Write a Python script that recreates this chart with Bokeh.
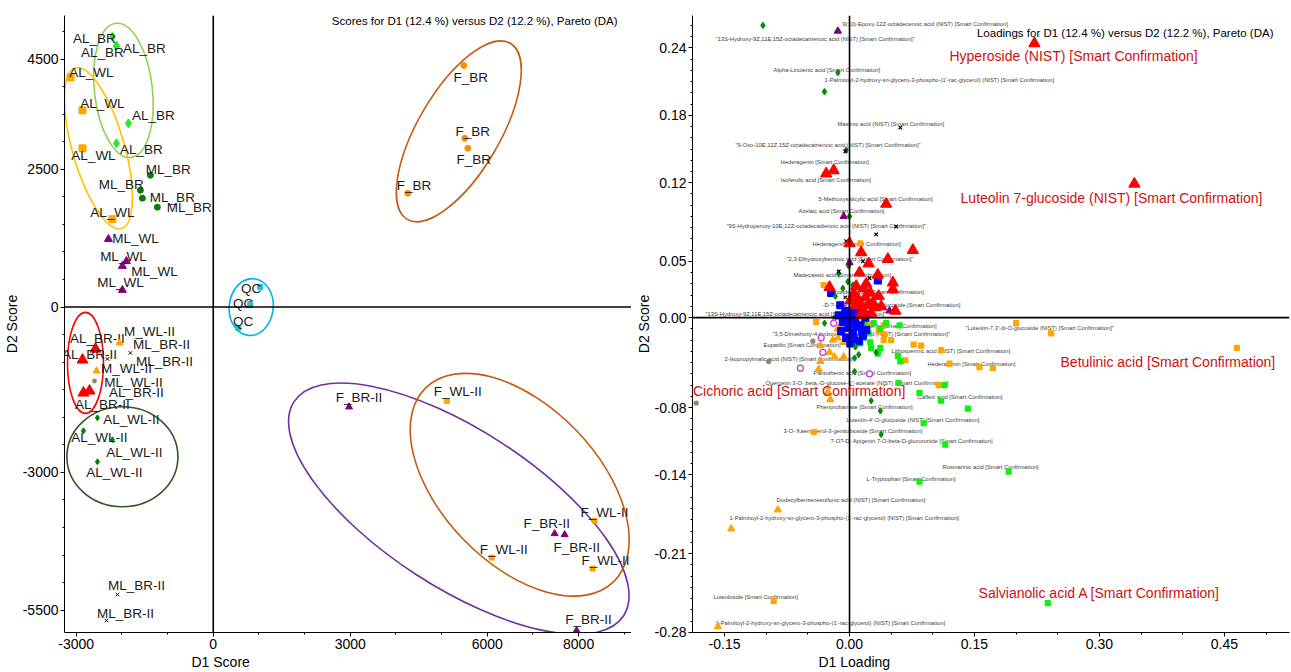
import numpy as np
from bokeh.plotting import figure
from bokeh.layouts import row
from bokeh.models import (ColumnDataSource, FixedTicker, PrintfTickFormatter, Span, Range1d,
                          Label, Title)
from bokeh.core.properties import value
from bokeh.embed import file_html
from bokeh.resources import INLINE

FONT = "Liberation Sans"

# ---------------- Scores (D1, D2) per sample group ----------------
AL_BR_D1 = [-2208, -2120, -2120, -1858, -2120]
AL_BR_D2 = [4909, 4728, 4746, 3333, 2971]
AL_WL_D1 = [-3126, -2863, -2863, -2208]
AL_WL_D2 = [4167, 3569, 2880, 1594]
ML_BR_D1 = [-1377, -1596, -1552, -1224]
ML_BR_D2 = [2391, 2120, 1975, 1812]
ML_WL_D1 = [-2295, -1902, -1989, -1989]
ML_WL_D2 = [1232, 833, 743, 308]
QC_D1 = [1027, 809, 546]
QC_D2 = [362, 54, -380]
F_BR_D1 = [5486, 5508, 5574, 4262]
F_BR_D2 = [4384, 3062, 2880, 2065]
F_BR2_D1 = [2973, 7475, 7694, 7956]
F_BR2_D2 = [-1812, -4112, -4130, -5870]
F_WL2_D1 = [5115, 8350, 6098, 8306]
F_WL2_D2 = [-1703, -3877, -4547, -4746]
AL_BR2_D1 = [-2579, -2863, -2710, -2842]
AL_BR2_D2 = [-761, -960, -1522, -1558]
M_WL2_D1 = [-2055, -2557]
M_WL2_D2 = [-652, -1159]
ML_WL2_D1 = [-2601]
ML_WL2_D2 = [-1341]
ML_BR2_D1 = [-1814, -2317, -2098, -2339]
ML_BR2_D2 = [-833, -942, -5217, -5688]
AL_WL2_D1 = [-2536, -2842, -2208, -2536]
AL_WL2_D2 = [-2011, -2246, -2409, -2808]

# group ellipses: centre (D1, D2)
ELL_NAMES = ["AL_BR", "AL_WL", "AL_BR-II", "AL_WL-II", "QC", "F_BR", "F_BR-II", "F_WL-II"]
ELL_D1 = [-1967, -2514, -2798, -1989, 831, 5377, 5377, 6710]
ELL_D2 = [3931, 2880, -1014, -2717, 0, 3188, -3659, -3225]

# ---------------- Loadings (D1, D2) per marker class ----------------
RED_X = [0.222, 0.342, -0.028, -0.019, 0.044, 0.000, 0.014, 0.076, 0.046, 0.023, 0.012, 0.034,
         -0.024, 0.052, 0.052, 0.035, 0.055, 0.005, 0.010, 0.017, 0.019, 0.013, 0.022, 0.028,
         0.007, 0.025, 0.031, 0.001, 0.017, 0.020, 0.008, 0.026, 0.038, 0.014]
RED_Y = [0.244, 0.119, 0.128, 0.131, 0.101, 0.066, 0.058, 0.060, 0.052, 0.048, 0.040, 0.038,
         0.027, 0.031, 0.025, 0.019, 0.006, 0.021, 0.017, 0.026, 0.018, 0.012, 0.011, 0.013,
         0.011, 0.022, 0.009, 0.015, 0.006, 0.030, 0.028, 0.004, 0.010, 0.002]
BLUE_X = [-0.022, 0.034, -0.011, -0.005, 0.001, 0.007, 0.013, -0.001, -0.008, 0.004, 0.016,
          0.011, -0.004, 0.019, -0.013, 0.008, 0.020, 0.001, -0.010, 0.005, 0.010, -0.006,
          0.015, 0.003, -0.002, 0.009]
BLUE_Y = [0.022, 0.033, 0.011, 0.006, 0.002, -0.003, -0.007, -0.009, -0.004, -0.014, -0.016,
          -0.021, -0.018, 0.000, 0.002, 0.008, -0.011, -0.023, -0.012, -0.019, 0.003, 0.000,
          -0.012, 0.004, -0.004, -0.008]
LIME_X = [0.044, 0.060, 0.037, 0.023, 0.017, 0.025, 0.018, 0.029, 0.013, 0.026, 0.037, 0.034,
          0.058, 0.061, 0.059, 0.114, 0.084, 0.110, 0.142, 0.089, 0.115, 0.084, 0.191, 0.238]
LIME_Y = [-0.005, -0.007, -0.010, -0.014, -0.018, -0.022, -0.004, -0.005, -0.023, -0.027,
          -0.027, -0.032, -0.034, -0.039, -0.058, -0.060, -0.067, -0.074, -0.081, -0.094,
          -0.113, -0.146, -0.137, -0.254]
ORSQ_X = [0.465, 0.200, 0.242, 0.110, 0.120, 0.156, 0.172, 0.107, -0.031, -0.040, 0.023,
          0.041, 0.035, 0.042, 0.041, 0.050, 0.077, 0.086, 0.067, 0.013, -0.043, -0.091]
ORSQ_Y = [-0.027, -0.005, -0.014, -0.029, -0.041, -0.044, -0.045, -0.060, 0.029, -0.004,
          -0.006, -0.007, -0.012, -0.015, -0.020, -0.020, -0.024, -0.025, -0.038, 0.066,
          -0.102, -0.252]
ORTRI_X = [-0.014, -0.004, -0.020, -0.007, -0.014, -0.024, -0.035, -0.018, -0.007, -0.035,
           -0.037, -0.026, -0.023, -0.086, -0.142, -0.158, 0.004]
ORTRI_Y = [-0.010, -0.011, -0.020, -0.022, -0.018, -0.031, -0.025, -0.035, -0.035, -0.039,
           -0.046, -0.066, -0.073, -0.171, -0.188, -0.275, -0.016]
DKG_X = [-0.104, -0.014, -0.030, -0.004, 0.000, 0.014, -0.001, -0.013, -0.002, 0.004, -0.008,
         0.008, -0.017, 0.005, -0.030, 0.007, 0.011, 0.006, 0.032, 0.006, 0.026, 0.037, 0.038]
DKG_Y = [0.260, 0.218, 0.201, 0.149, 0.090, 0.060, 0.046, 0.039, 0.032, 0.029, 0.026, 0.021,
         0.019, 0.012, -0.005, -0.026, -0.033, -0.036, -0.031, -0.048, -0.074, -0.083, -0.104]
BLKX_X = [0.061, -0.005, 0.056, 0.032, -0.004, 0.016, -0.013, 0.024, 0.004, -0.005, 0.007,
          0.029, 0.016, -0.018]
BLKX_Y = [0.169, 0.148, 0.081, 0.074, 0.068, 0.050, 0.041, 0.035, 0.024, 0.018, 0.018,
          0.017, 0.012, 0.000]
PURP_X = [-0.014, -0.007, 0.000, 0.036, 0.048, 0.010]
PURP_Y = [0.255, 0.090, 0.049, 0.018, 0.006, 0.004]
MAG_X = [-0.019, -0.032, -0.059, 0.024, -0.034]
MAG_Y = [-0.005, -0.031, -0.045, -0.050, -0.018]
GRAY_X = [-0.184, -0.044, -0.097]
GRAY_Y = [-0.076, -0.021, -0.039]

# compound annotations (anchor in loading units)
CMP_TEXT = [
    "9(10)-Epoxy-12Z-octadecenoic acid (NIST) [Smart Confirmation]",
    "\"13S-Hydroxy-9Z,11E,15Z-octadecatrienoic acid (NIST) [Smart Confirmation]\"",
    "Alpha-Linolenic acid [Smart Confirmation]",
    "1-Palmitoyl-2-hydroxy-sn-glycero-3-phospho-(1'-rac-glycerol) (NIST) [Smart Confirmation]",
    "Maslinic acid (NIST) [Smart Confirmation]",
    "\"9-Oxo-10E,12Z,15Z-octadecatrienoic acid (NIST) [Smart Confirmation]\"",
    "Hederagenin [Smart Confirmation]",
    "Isoferulic acid [Smart Confirmation]",
    "5-Methoxysalicylic acid [Smart Confirmation]",
    "Azelaic acid [Smart Confirmation]",
    "\"9S-Hydroperoxy-10E,12Z-octadecadienoic acid (NIST) [Smart Confirmation]\"",
    "Hederagenin [Smart Confirmation]",
    "\"2,3-Dihydroxybenzoic acid [Smart Confirmation]\"",
    "Madecassic acid [Smart Confirmation]",
    "Tiliroside (NIST) [Smart Confirmation]",
    "-D-?-D-(+)-pinoresinol-glucoside [Smart Confirmation]",
    "\"13S-Hydroxy-9Z,11E,15Z-octadecatrienoic acid [Smart Confirmation]\"",
    "?-D-? Hederagenin [Smart Confirmation]",
    "\"3,5-Dimethoxy-4-hydroxycinnamic acid (NIST) [Smart Confirmation]\"",
    "Eupatilin [Smart Confirmation]",
    "2-Isopropylmalic acid (NIST) [Smart Confirmation]",
    "Pantothenic acid [Smart Confirmation]",
    "Quercetin 3-O-.beta.-D-glucose-6''-acetate (NIST) [Smart Confirmation]",
    "Caffeic acid [Smart Confirmation]",
    "\"Luteolin-7,3'-di-O-glucoside (NIST) [Smart Confirmation]\"",
    "Lithospermic acid (NIST) [Smart Confirmation]",
    "Hederagenin [Smart Confirmation]",
    "Phenprobamate [Smart Confirmation]",
    "Luteolin-4'-O-glucoside (NIST) [Smart Confirmation]",
    "3-O- Kaempferol-3-gentiobioside [Smart Confirmation]",
    "7-O?-D- Apigenin 7-O-beta-D-glucuronide [Smart Confirmation]",
    "Rosmarinic acid [Smart Confirmation]",
    "L-Tryptophan [Smart Confirmation]",
    "Dodecylbenzenesulfonic acid (NIST) [Smart Confirmation]",
    "1-Palmitoyl-2-hydroxy-sn-glycero-3-phospho-(1'-rac-glycerol) (NIST) [Smart Confirmation]",
    "Luteoloside [Smart Confirmation]",
    "1-Palmitoyl-2-hydroxy-sn-glycero-3-phospho-(1'-rac-glycerol) (NIST) [Smart Confirmation]",
]
CMP_X = [-0.0084, -0.1609, -0.0912, -0.0300, -0.0144, -0.1369, -0.0828, -0.0828, -0.0372,
         -0.0612, -0.1477, -0.0444, -0.0756, -0.0672, -0.0264, -0.0324, -0.1729, -0.0204,
         -0.0924, -0.1032, -0.1501, -0.0432, -0.1008, 0.0816, 0.1393, 0.0504, 0.0936,
         -0.0396, -0.0036, -0.0792, -0.0228, 0.1116, 0.0204, -0.0876, -0.1441, -0.1633, -0.1609]
CMP_Y = [0.2609, 0.2478, 0.2207, 0.2110, 0.1725, 0.1532, 0.1384, 0.1226, 0.1051, 0.0946,
         0.0814, 0.0657, 0.0525, 0.0377, 0.0228, 0.0114, 0.0035, -0.0079, -0.0149, -0.0245,
         -0.0368, -0.0490, -0.0578, -0.0709, -0.0096, -0.0298, -0.0412, -0.0797, -0.0911,
         -0.1007, -0.1095, -0.1331, -0.1436, -0.1620, -0.1786, -0.2487, -0.2715]

KEY_TEXT = ["Hyperoside (NIST) [Smart Confirmation]",
            "Luteolin 7-glucoside (NIST) [Smart Confirmation]",
            "Betulinic acid [Smart Confirmation]",
            "Cichoric acid [Smart Confirmation]",
            "Salvianolic acid A [Smart Confirmation]"]
KEY_X = [0.1200, 0.1333, 0.2533, -0.1880, 0.1549]
KEY_Y = [0.2329, 0.1060, -0.0394, -0.0657, -0.2452]


def style_axes(p, ylabel):
    for ax in (p.xaxis[0], p.yaxis[0]):
        ax.axis_line_color = "black"
        ax.axis_line_width = 1
        ax.major_tick_line_color = "black"
        ax.minor_tick_line_color = "black"
        ax.major_tick_out = 4
        ax.major_tick_in = 0
        ax.minor_tick_out = 2
        ax.minor_tick_in = 0
        ax.major_label_text_font = FONT
        ax.major_label_text_font_size = "14px"
        ax.major_label_text_color = "black"
        ax.major_label_standoff = 2
    yax = p.yaxis[0]
    yax.axis_label = ylabel
    yax.axis_label_text_font = FONT
    yax.axis_label_text_font_size = "14px"
    yax.axis_label_text_font_style = "normal"
    yax.axis_label_text_color = "black"
    yax.axis_label_standoff = 0
    p.xgrid.visible = False
    p.ygrid.visible = False
    p.outline_line_color = None
    p.background_fill_color = "white"
    p.border_fill_color = "white"


def x_title(p, text, offset):
    p.add_layout(Title(text=text, align="left", offset=offset, standoff=0,
                       text_font=FONT, text_font_size="14px", text_font_style="normal",
                       text_color="black"), "below")


# ====================== Scores plot ======================
p1 = figure(width=631, height=672, output_backend="svg", toolbar_location=None,
            x_range=Range1d(-3257, 9158), y_range=Range1d(-5906, 5290),
            min_border_left=63, min_border_right=0, min_border_top=15, min_border_bottom=39)
style_axes(p1, "D2 Score")
p1.xaxis.ticker = FixedTicker(ticks=[-3000, 0, 3000, 6000, 8000],
                              minor_ticks=list(np.arange(-3000, 9001, 1000)))
p1.yaxis.ticker = FixedTicker(ticks=[4500, 2500, 0, -3000, -5500],
                              minor_ticks=list(np.arange(-5500, 5001, 500)))
p1.xaxis.formatter = PrintfTickFormatter(format="%d")
p1.yaxis.formatter = PrintfTickFormatter(format="%d")
x_title(p1, "D1 Score", 127)

p1.add_layout(Span(location=0, dimension="height", line_color="black", line_width=1.6))
p1.add_layout(Span(location=0, dimension="width", line_color="black", line_width=1.6))

ell_w = [58, 52, 36, 111, 44, 204, 393, 270]
ell_h = [135, 167, 101, 100, 57, 82, 157, 157]
ell_a = [6.4, 16, 0, 0, -6, 59.7, -33, -46]
ell_c = ["#92D050", "#FFC000", "#FF0000", "#375623", "#00B0F0", "#C55A11", "#7030A0", "#C55A11"]
p1.ellipse(x=ELL_D1, y=ELL_D2, width=ell_w, height=ell_h, angle=ell_a, angle_units="deg",
           width_units="screen", height_units="screen", fill_alpha=0,
           line_color=ell_c, line_width=1.6)

score_groups = [
    ("AL_BR", AL_BR_D1, AL_BR_D2, "diamond", "#22EE22", 9,
     [-18, -14, 28, 25, 25], [2, 6, 3, -8, 6]),
    ("AL_WL", AL_WL_D1, AL_WL_D2, "square", "#FFA500", 7,
     [21, 20, 11, 0], [-5, -7, 7, -7]),
    ("ML_BR", ML_BR_D1, ML_BR_D2, "circle", "#0A7A0A", 6,
     [18, -19, 30, 32], [-6, -6, -1, 0]),
    ("ML_WL", ML_WL_D1, ML_WL_D2, "triangle", "#800080", 8,
     [27, -3, 32, -2], [-1, -5, 5, -8]),
    ("QC", QC_D1, QC_D2, "square", "#20C4D4", 5,
     [-9, -7, 5], [1, -1, -6]),
    ("F_BR", F_BR_D1, F_BR_D2, "circle", "#FF8C00", 6,
     [7, 8, 6, 6], [12, -7, 11, -8]),
    ("F_BR-II", F_BR2_D1, F_BR2_D2, "triangle", "#800080", 7,
     [10, -8, 12, 12], [-9, -10, 13, -11]),
    ("F_WL-II", F_WL2_D1, F_WL2_D2, "square", "#FFA500", 5,
     [11, 10, 12, 13], [-9, -8, -8, -8]),
    ("AL_BR-II", AL_BR2_D1, AL_BR2_D2, "triangle", "#FF0000", 11,
     [2, 7, 47, 19], [-10, -5, 2, 12]),
    ("M_WL-II", M_WL2_D1, M_WL2_D2, "triangle", "#FFA500", 7,
     [30, 30], [-11, -2]),
    ("ML_WL-II", ML_WL2_D1, ML_WL2_D2, "circle", "#8A8A6A", 4,
     [39], [2]),
    ("ML_BR-II", ML_BR2_D1, ML_BR2_D2, "x", "#000000", 5,
     [31, 57, 19, 19], [-8, 3, -9, -7]),
    ("AL_WL-II", AL_WL2_D1, AL_WL2_D2, "diamond", "#008000", 6,
     [34, 16, 22, 17], [2, 7, 13, 11]),
]
for name, xs, ys, marker, color, size, dx, dy in score_groups:
    src = ColumnDataSource(dict(x=xs, y=ys, t=[name] * len(xs), dx=dx, dy=dy))
    p1.scatter("x", "y", source=src, marker=marker, size=size, fill_color=color,
               line_color=color, line_width=1)
    p1.text("x", "y", text="t", source=src, x_offset="dx", y_offset="dy",
            text_align="center", text_baseline="middle", text_font=value(FONT),
            text_font_size="13.5px", text_color="#1a1a1a")

p1.add_layout(Label(x=8852, y=5199, text="Scores for D1 (12.4 %) versus D2 (12.2 %), Pareto (DA)",
                    text_align="right", text_baseline="middle", text_font=FONT,
                    text_font_size="11.5px", text_color="black"))

# ====================== Loadings plot ======================
p2 = figure(width=660, height=672, output_backend="svg", toolbar_location=None,
            x_range=Range1d(-0.1885, 0.5282), y_range=Range1d(-0.2802, 0.2688),
            min_border_left=61, min_border_right=2, min_border_top=5, min_border_bottom=40)
style_axes(p2, "D2 Score")
p2.yaxis.major_label_standoff = 2
p2.xaxis.ticker = FixedTicker(ticks=[-0.15, 0.0, 0.15, 0.30, 0.45],
                              minor_ticks=list(np.round(np.arange(-0.15, 0.51, 0.05), 3)))
p2.yaxis.ticker = FixedTicker(ticks=[0.24, 0.18, 0.12, 0.05, 0.0, -0.08, -0.14, -0.21, -0.28],
                              minor_ticks=list(np.round(np.arange(-0.28, 0.27, 0.01), 3)))
p2.xaxis.formatter = PrintfTickFormatter(format="%.2f")
p2.yaxis.formatter = PrintfTickFormatter(format="%.2f")
x_title(p2, "D1 Loading", 126)

p2.add_layout(Span(location=0, dimension="height", line_color="black", line_width=1.6))
p2.add_layout(Span(location=0, dimension="width", line_color="black", line_width=1.6))

cmp_src = ColumnDataSource(dict(x=CMP_X, y=CMP_Y, t=CMP_TEXT))
p2.text("x", "y", text="t", source=cmp_src, text_align="left", text_baseline="middle",
        text_font=value(FONT), text_font_size="5.8px", text_color="#3c3c3c")

load_sets = [
    (ORTRI_X, ORTRI_Y, "triangle", "#FFA500", "#FFA500", 7),
    (ORSQ_X, ORSQ_Y, "square", "#FFA500", "#FFA500", 5),
    (LIME_X, LIME_Y, "square", "#11EE11", "#11EE11", 5),
    (GRAY_X, GRAY_Y, "circle", "#8A8A6A", "#8A8A6A", 4),
    (MAG_X, MAG_Y, "circle", "white", "#CC33CC", 6),
    (BLUE_X, BLUE_Y, "square", "#0000FF", "#0000FF", 7),
    (DKG_X, DKG_Y, "diamond", "#0A8A0A", "#0A8A0A", 6),
    (PURP_X, PURP_Y, "triangle", "#800080", "#800080", 7),
    (BLKX_X, BLKX_Y, "x", "black", "black", 5),
    (RED_X, RED_Y, "triangle", "#FF0000", "#FF0000", 11),
]
for xs, ys, marker, fc, lc, size in load_sets:
    p2.scatter(xs, ys, marker=marker, size=size, fill_color=fc, line_color=lc, line_width=1.2)

for t, x, y in zip(KEY_TEXT, KEY_X, KEY_Y):
    p2.add_layout(Label(x=x, y=y, text=t, text_align="left", text_baseline="middle",
                        text_font=FONT, text_font_size="14px", text_color="#CC1111"))

p2.add_layout(Label(x=0.509, y=0.2531,
                    text="Loadings for D1 (12.4 %) versus D2 (12.2 %), Pareto (DA)",
                    text_align="right", text_baseline="middle", text_font=FONT,
                    text_font_size="11.5px", text_color="black"))

layout = row(p1, p2)
open("out.html", "w").write(file_html(layout, INLINE))
